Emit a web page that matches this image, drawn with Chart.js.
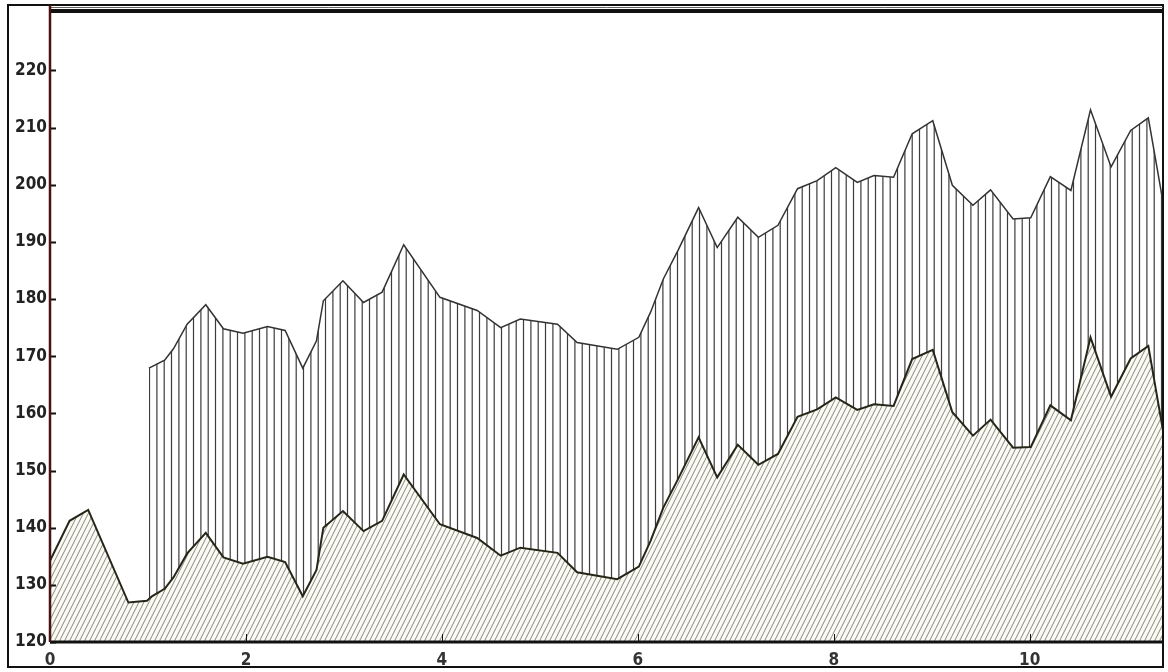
<!DOCTYPE html>
<html>
<head>
<meta charset="utf-8">
<script src="https://cdn.jsdelivr.net/npm/chart.js@4"></script>
<style>
  body { margin: 0; background: #fff; }
  canvas { display: block; }
</style>
</head>
<body>
<canvas id="mycanvas" width="1168" height="672"></canvas>
<script>
// lower curve (diagonal hatch below it)
var lowerX = [0, 0.2, 0.39, 0.8, 0.99, 1.04, 1.17, 1.26, 1.4, 1.59, 1.77, 1.97, 2.22, 2.4, 2.58, 2.72, 2.79, 2.99, 3.2, 3.39, 3.61, 3.98, 4.36, 4.6, 4.8, 5.18, 5.38, 5.79, 6.01, 6.13, 6.26, 6.41, 6.62, 6.81, 7.02, 7.23, 7.43, 7.63, 7.83, 8.02, 8.24, 8.41, 8.61, 8.8, 9.01, 9.21, 9.42, 9.6, 9.83, 10.01, 10.21, 10.42, 10.62, 10.83, 11.03, 11.21, 11.36];
var lowerY = [134.2, 141.2, 143.1, 126.9, 127.2, 128, 129.3, 131.3, 135.5, 139.1, 134.8, 133.7, 134.9, 134, 128, 132.6, 140, 142.9, 139.4, 141.2, 149.3, 140.6, 138.2, 135.1, 136.5, 135.6, 132.2, 131, 133.2, 137.7, 143.5, 148.5, 155.8, 148.8, 154.5, 151, 152.9, 159.4, 160.7, 162.8, 160.6, 161.6, 161.3, 169.5, 171.1, 160.2, 156.1, 158.9, 154, 154.1, 161.4, 158.8, 173.3, 162.9, 169.6, 171.8, 157];

// upper curve (vertical hatch between the two)
var upperX = [1.01, 1.17, 1.26, 1.4, 1.59, 1.77, 1.97, 2.22, 2.4, 2.58, 2.72, 2.79, 2.99, 3.2, 3.39, 3.61, 3.98, 4.36, 4.6, 4.8, 5.18, 5.38, 5.79, 6.01, 6.13, 6.26, 6.41, 6.62, 6.81, 7.02, 7.23, 7.43, 7.63, 7.83, 8.02, 8.24, 8.41, 8.61, 8.8, 9.01, 9.21, 9.42, 9.6, 9.83, 10.01, 10.21, 10.42, 10.62, 10.83, 11.03, 11.21, 11.36];
var upperY = [167.9, 169.3, 171.3, 175.6, 179, 174.8, 174, 175.2, 174.5, 167.9, 172.7, 179.7, 183.2, 179.4, 181.2, 189.5, 180.3, 178, 175, 176.5, 175.6, 172.4, 171.2, 173.3, 177.7, 183.5, 188.5, 196, 189, 194.3, 190.8, 192.9, 199.3, 200.7, 203, 200.4, 201.6, 201.3, 208.9, 211.2, 199.9, 196.4, 199.1, 194, 194.2, 201.4, 199, 213.1, 203.1, 209.5, 211.7, 197];

var xTicks = [0, 2, 4, 6, 8, 10];
var yTicks = [120, 130, 140, 150, 160, 170, 180, 190, 200, 210, 220];

var labelFont = "'Liberation Sans Narrow', 'Arial Narrow', 'DejaVu Sans Condensed', sans-serif";

function toPoints(xs, ys) {
	var pts = [];
	for (var i in xs) {
		pts.push({x: xs[i], y: ys[i]});
	}
	return pts;
}

function diagPattern() {
	var c = document.createElement('canvas');
	c.width = 5; c.height = 10;
	var g = c.getContext('2d');
	g.fillStyle = '#fbfbf4';
	g.fillRect(0, 0, 5, 10);
	g.strokeStyle = '#7a7a76';
	g.lineWidth = 0.9;
	for (var k = -1; k <= 1; k++) {
		g.beginPath();
		g.moveTo(k * 5, 10);
		g.lineTo(k * 5 + 5, 0);
		g.stroke();
	}
	return g.createPattern(c, 'repeat');
}

function vertPattern() {
	var c = document.createElement('canvas');
	c.width = 22; c.height = 4;
	var g = c.getContext('2d');
	g.fillStyle = '#ffffff';
	g.fillRect(0, 0, 22, 4);
	g.fillStyle = '#3c3c3c';
	[2.3, 9.6, 16.9].forEach(function(x) {
		g.fillRect(x, 0, 1.2, 4);
	});
	return g.createPattern(c, 'repeat');
}

var framePlugin = {
	id: 'frame',
	afterDraw: function(chart) {
		var ctx = chart.ctx;
		var a = chart.chartArea;
		var xs = chart.scales.x, ys = chart.scales.y;
		ctx.save();
		// tick marks inside the plot
		ctx.strokeStyle = '#111';
		ctx.lineWidth = 2;
		yTicks.forEach(function(v) {
			var p = Math.round(ys.getPixelForValue(v)) + 0.5;
			ctx.beginPath();
			ctx.moveTo(a.left, p);
			ctx.lineTo(a.left + 6, p);
			ctx.stroke();
		});
		ctx.lineWidth = 1;
		xTicks.forEach(function(v) {
			if (v === 0) return;
			var p = Math.round(xs.getPixelForValue(v)) + 0.5;
			ctx.beginPath();
			ctx.moveTo(p, a.bottom);
			ctx.lineTo(p, a.bottom - 8);
			ctx.stroke();
		});
		// outer box
		ctx.strokeStyle = '#111';
		ctx.lineWidth = 2;
		ctx.strokeRect(8, 5, a.right - 8, 662);
		// top double rule
		ctx.lineWidth = 1;
		ctx.strokeStyle = '#666';
		ctx.beginPath(); ctx.moveTo(a.left, 7.5); ctx.lineTo(a.right, 7.5); ctx.stroke();
		ctx.lineWidth = 4;
		ctx.strokeStyle = '#111';
		ctx.beginPath(); ctx.moveTo(a.left, 11); ctx.lineTo(a.right, 11); ctx.stroke();
		// x axis
		ctx.lineWidth = 3;
		ctx.beginPath(); ctx.moveTo(a.left, a.bottom); ctx.lineTo(a.right, a.bottom); ctx.stroke();
		// y axis
		ctx.lineWidth = 2.5;
		ctx.strokeStyle = '#4a1212';
		ctx.beginPath(); ctx.moveTo(a.left, 5); ctx.lineTo(a.left, a.bottom); ctx.stroke();
		ctx.restore();
	}
};

var ctx = document.getElementById('mycanvas');

var chart = new Chart(ctx, {
	type: 'line',
	data: {
		datasets: [
			{
				label: 'lower',
				data: toPoints(lowerX, lowerY),
				borderColor: '#262618',
				borderWidth: 2,
				backgroundColor: diagPattern(),
				fill: 'start',
				pointRadius: 0
			},
			{
				label: 'upper',
				data: toPoints(upperX, upperY),
				borderColor: '#333333',
				borderWidth: 1.5,
				backgroundColor: vertPattern(),
				fill: '-1',
				pointRadius: 0
			}
		]
	},
	options: {
		responsive: false,
		animation: false,
		layout: { padding: { left: 0, right: 5, top: 10, bottom: 0 } },
		plugins: {
			legend: { display: false },
			tooltip: { enabled: false }
		},
		elements: { line: { tension: 0 } },
		scales: {
			x: {
				type: 'linear',
				min: 0,
				max: 11.36,
				grid: { display: false, drawTicks: false },
				border: { display: false },
				ticks: {
					stepSize: 2,
					includeBounds: false,
					autoSkip: false,
					maxRotation: 0,
					padding: 8,
					color: '#333',
					font: { family: labelFont, size: 17, weight: 'bold' },
					callback: function(v) { return xTicks.indexOf(v) >= 0 ? v : ''; }
				},
				afterFit: function(s) { s.height = 30; }
			},
			y: {
				min: 120,
				max: 230,
				grid: { display: false, drawTicks: false },
				border: { display: false },
				ticks: {
					stepSize: 10,
					includeBounds: false,
					padding: 3,
					color: '#222',
					font: { family: labelFont, size: 17, weight: 'bold' },
					callback: function(v) { return yTicks.indexOf(v) >= 0 ? v : ''; }
				},
				afterFit: function(s) { s.width = 50; }
			}
		}
	},
	plugins: [framePlugin]
});
</script>
</body>
</html>
